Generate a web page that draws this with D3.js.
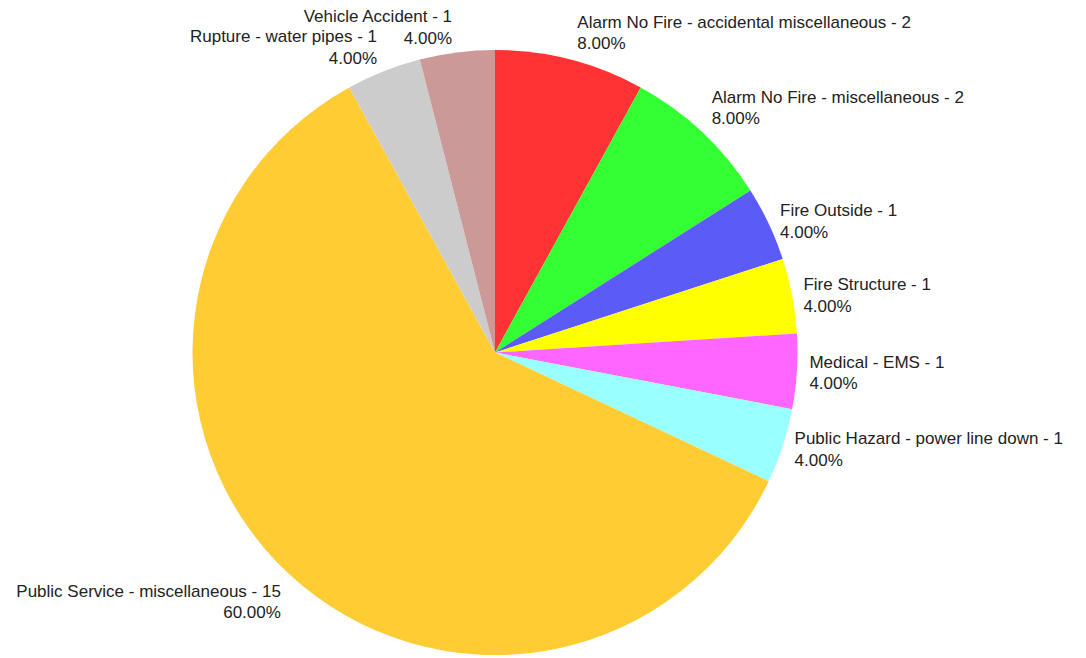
<!DOCTYPE html>
<html>
<head>
<meta charset="utf-8">
<script src="https://cdn.jsdelivr.net/npm/d3@7"></script>
<style>
  html, body { margin: 0; padding: 0; background: #ffffff; }
  svg { display: block; }
  text { font-family: Arial, "Liberation Sans", sans-serif; font-size: 17px; fill: #222222; }
</style>
</head>
<body>
<svg id="chart" width="1086" height="658"></svg>
<script>
// ---- data ----
const categories = [
  "Alarm No Fire - accidental miscellaneous",
  "Alarm No Fire - miscellaneous",
  "Fire Outside",
  "Fire Structure",
  "Medical - EMS",
  "Public Hazard - power line down",
  "Public Service - miscellaneous",
  "Rupture - water pipes",
  "Vehicle Accident"
];
const counts = [2, 2, 1, 1, 1, 1, 15, 1, 1];
const sliceColors = ["#FF3333", "#33FF33", "#5B5BF8", "#FFFF00", "#FF66FF", "#99FFFF", "#FFCC33", "#CCCCCC", "#CC9999"];

// ---- layout ----
const W = 1086, H = 658;
const cx = 495, cy = 352.5, R = 302.5;
const labelR = 315, lineGap = 21.5;
// small per-label adjustments (px) relative to the computed anchor, to keep labels clear of the pie
const labelNudge = [
  [4, -14.5], [1, -15], [0, 3], [-1, 2], [0, 0.5], [0, -0.5],
  [1.5, 19.5], [-2, -12.5], [-3.5, -12.5]
];

const total = d3.sum(counts);
const data = categories.map((c, i) => ({ name: c, value: counts[i], color: sliceColors[i], i }));

const svg = d3.select("#chart");
const g = svg.append("g").attr("transform", `translate(${cx},${cy})`);

const pie = d3.pie().value(d => d.value).sort(null);
const arc = d3.arc().innerRadius(0).outerRadius(R);
const arcs = pie(data);

g.selectAll("path.slice")
  .data(arcs)
  .join("path")
  .attr("class", "slice")
  .attr("d", arc)
  .attr("fill", d => d.data.color);

const fmtPct = v => (v / total * 100).toFixed(2) + "%";

g.selectAll("text.label")
  .data(arcs)
  .join("text")
  .attr("class", "label")
  .each(function(d) {
    const mid = (d.startAngle + d.endAngle) / 2;
    const ax = Math.sin(mid) * labelR;
    const ay = -Math.cos(mid) * labelR;
    const right = ax >= 0;
    const nudge = labelNudge[d.data.i];
    const x = ax + nudge[0];
    const y = ay - 5 + nudge[1];
    const t = d3.select(this).attr("text-anchor", right ? "start" : "end");
    t.append("tspan").attr("x", x).attr("y", y)
      .text(`${d.data.name} - ${d.data.value}`);
    t.append("tspan").attr("x", x).attr("y", y + lineGap)
      .text(fmtPct(d.data.value));
  });
</script>
</body>
</html>
